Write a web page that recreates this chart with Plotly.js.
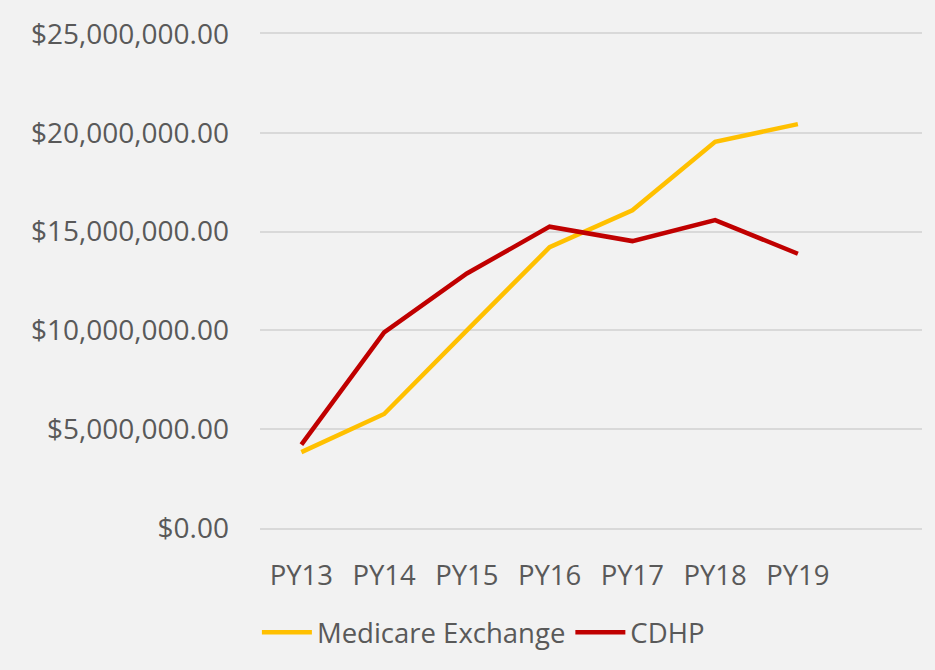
<!DOCTYPE html>
<html>
<head>
<meta charset="utf-8">
<script src="https://cdn.plot.ly/plotly-3.0.1.min.js"></script>
<style>html,body{margin:0;padding:0;background:#f2f2f2;}#chart{width:935px;height:670px;}</style>
</head>
<body>
<div id="chart"></div>
<script>
const categories = ["PY13", "PY14", "PY15", "PY16", "PY17", "PY18", "PY19"];
const medicareExchange = [3840000, 5770000, 10000000, 14210000, 16080000, 19540000, 20440000];
const cdhp = [4220000, 9900000, 12880000, 15250000, 14520000, 15580000, 13880000];
const seriesNames = ["Medicare Exchange", "CDHP"];
const yTickVals = [0, 5000000, 10000000, 15000000, 20000000, 25000000];
const yTickText = ["$0.00", "$5,000,000.00", "$10,000,000.00", "$15,000,000.00", "$20,000,000.00", "$25,000,000.00"];

const font = {family: "'Open Sans', 'Noto Sans', sans-serif", color: "#595959"};

const traces = [
  {x: categories, y: medicareExchange, name: seriesNames[0], type: "scatter", mode: "lines",
   line: {color: "#ffc000", width: 4.5}},
  {x: categories, y: cdhp, name: seriesNames[1], type: "scatter", mode: "lines",
   line: {color: "#c00000", width: 4.5}}
];

const layout = {
  width: 935, height: 670,
  paper_bgcolor: "#f2f2f2", plot_bgcolor: "#f2f2f2",
  margin: {l: 260, r: 13, t: 34, b: 142},
  font: Object.assign({size: 28}, font),
  showlegend: true,
  legend: {orientation: "h", xref: "container", yref: "container", x: 0.517, xanchor: "center",
           y: 0.056, yanchor: "middle", font: Object.assign({size: 27.5}, font), bgcolor: "rgba(0,0,0,0)",
           itemwidth: 50},
  xaxis: {type: "category", categoryorder: "array", categoryarray: categories,
          range: [-0.5, 7.5], showgrid: false, zeroline: false,
          showline: true, mirror: true, linecolor: "#d9d9d9", linewidth: 2,
          ticks: "", ticklabelstandoff: 22, tickfont: Object.assign({size: 27.5}, font), fixedrange: true},
  yaxis: {range: [0, 25000000], tickvals: yTickVals, ticktext: yTickText,
          showgrid: true, gridcolor: "#d9d9d9", gridwidth: 2, zeroline: false, showline: false,
          ticks: "", ticklabelstandoff: 30, tickfont: Object.assign({size: 28}, font), fixedrange: true}
};

Plotly.newPlot("chart", traces, layout, {displayModeBar: false, staticPlot: true});
</script>
</body>
</html>
